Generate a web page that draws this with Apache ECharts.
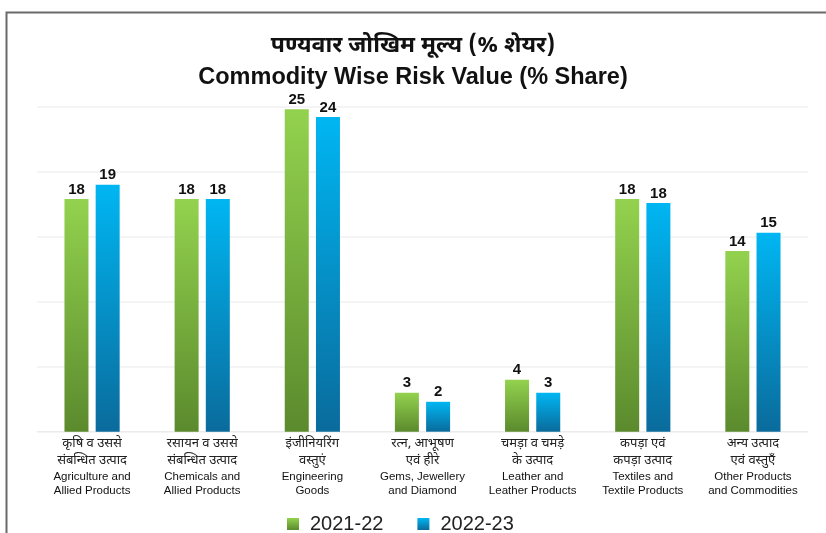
<!DOCTYPE html>
<html>
<head>
<meta charset="utf-8">
<script src="https://cdn.jsdelivr.net/npm/echarts@6/dist/echarts.min.js"></script>
<style>
html,body{margin:0;padding:0;background:#fff;}
#chart{width:826px;height:533px;}
</style>
</head>
<body>
<div id="chart"></div>
<script>
// ---- data ----
var categoriesHindi = [
  'कृषि व उससे\nसंबन्धित उत्पाद',
  'रसायन व उससे\nसंबन्धित उत्पाद',
  'इंजीनियरिंग\nवस्तुएं',
  'रत्न, आभूषण\nएवं हीरे',
  'चमड़ा व चमड़े\nके उत्पाद',
  'कपड़ा एवं\nकपड़ा उत्पाद',
  'अन्य उत्पाद\nएवं वस्तुएँ'
];
var categoriesEnglish = [
  'Agriculture and\nAllied Products',
  'Chemicals and\nAllied Products',
  'Engineering\nGoods',
  'Gems, Jewellery\nand Diamond',
  'Leather and\nLeather Products',
  'Textiles and\nTextile Products',
  'Other Products\nand Commodities'
];
var seriesNames = ['2021-22', '2022-23'];
var values2021 = [17.9, 17.9, 24.8, 3.0, 4.0, 17.9, 13.9];
var values2022 = [19.0, 17.9, 24.2, 2.3, 3.0, 17.6, 15.3];
var titleHindi = 'पण्यवार जोखिम मूल्य (% शेयर)';
var titleEnglish = 'Commodity Wise Risk Value (% Share)';

// ---- chart ----
var deva = '"Noto Sans Devanagari","Noto Serif Devanagari","Lohit Devanagari","FreeSerif","Mangal",sans-serif';
var latin = '"Liberation Sans", Arial, sans-serif';

var categories = categoriesHindi.map(function (h, i) { return h + '||' + categoriesEnglish[i]; });

function grad(top, bottom) {
  return new echarts.graphic.LinearGradient(0, 0, 0, 1, [
    { offset: 0, color: top },
    { offset: 1, color: bottom }
  ]);
}
var greenGrad = grad('#93d24e', '#5b8a2d');
var blueGrad = grad('#00b6f2', '#0a6b9c');

var labelCfg = {
  show: true,
  position: 'top',
  distance: 2,
  color: '#111',
  fontFamily: latin,
  fontWeight: 'bold',
  fontSize: 15,
  formatter: function (p) { return Math.round(p.value); }
};

var chart = echarts.init(document.getElementById('chart'), null, { renderer: 'canvas' });
chart.setOption({
  backgroundColor: '#fff',
  animation: false,
  title: [
    {
      text: titleHindi,
      left: 'center',
      top: 31,
      textStyle: { fontFamily: deva, fontSize: 23, fontWeight: 'bold', color: '#111' }
    },
    {
      text: titleEnglish,
      left: 'center',
      top: 61,
      textStyle: { fontFamily: latin, fontSize: 23.5, fontWeight: 'bold', color: '#111' }
    }
  ],
  graphic: [
    {
      type: 'polyline',
      shape: { points: [[6.5, 540], [6.5, 12.5], [830, 12.5]] },
      style: { stroke: '#6a6a6a', lineWidth: 2, fill: null },
      silent: true
    }
  ],
  legend: {
    bottom: -6,
    left: 282,
    itemWidth: 12,
    itemHeight: 12,
    itemGap: 34,
    icon: 'rect',
    textStyle: { fontFamily: latin, fontSize: 20, color: '#222', padding: [0, 0, 0, 6] },
    data: [
      { name: seriesNames[0], itemStyle: { color: greenGrad } },
      { name: seriesNames[1], itemStyle: { color: blueGrad } }
    ]
  },
  grid: { left: 37, right: 18, top: 106.7, bottom: 101.3, containLabel: false },
  xAxis: {
    type: 'category',
    data: categories,
    axisLine: { show: true, lineStyle: { color: '#ececec', width: 1 } },
    axisTick: { show: false },
    axisLabel: {
      interval: 0,
      margin: 4,
      formatter: function (v) {
        var parts = v.split('||');
        var h = parts[0].split('\n');
        var e = parts[1].split('\n');
        return '{h|' + h[0] + '}\n{h|' + h[1] + '}\n{e|' + e[0] + '}\n{e|' + e[1] + '}';
      },
      rich: {
        h: { fontFamily: deva, fontSize: 13, lineHeight: 17, color: '#222' },
        e: { fontFamily: latin, fontSize: 11.5, lineHeight: 14, color: '#111' }
      }
    }
  },
  yAxis: {
    type: 'value',
    min: 0,
    max: 25,
    interval: 5,
    axisLabel: { show: false },
    axisLine: { show: false },
    axisTick: { show: false },
    splitLine: { show: true, lineStyle: { color: '#f1f1f1', width: 1.5 } }
  },
  series: [
    {
      name: seriesNames[0],
      type: 'bar',
      data: values2021,
      barWidth: 24,
      barGap: '30%',
      itemStyle: { color: greenGrad },
      label: labelCfg
    },
    {
      name: seriesNames[1],
      type: 'bar',
      data: values2022,
      barWidth: 24,
      barGap: '30%',
      itemStyle: { color: blueGrad },
      label: labelCfg
    }
  ]
});
</script>
</body>
</html>
